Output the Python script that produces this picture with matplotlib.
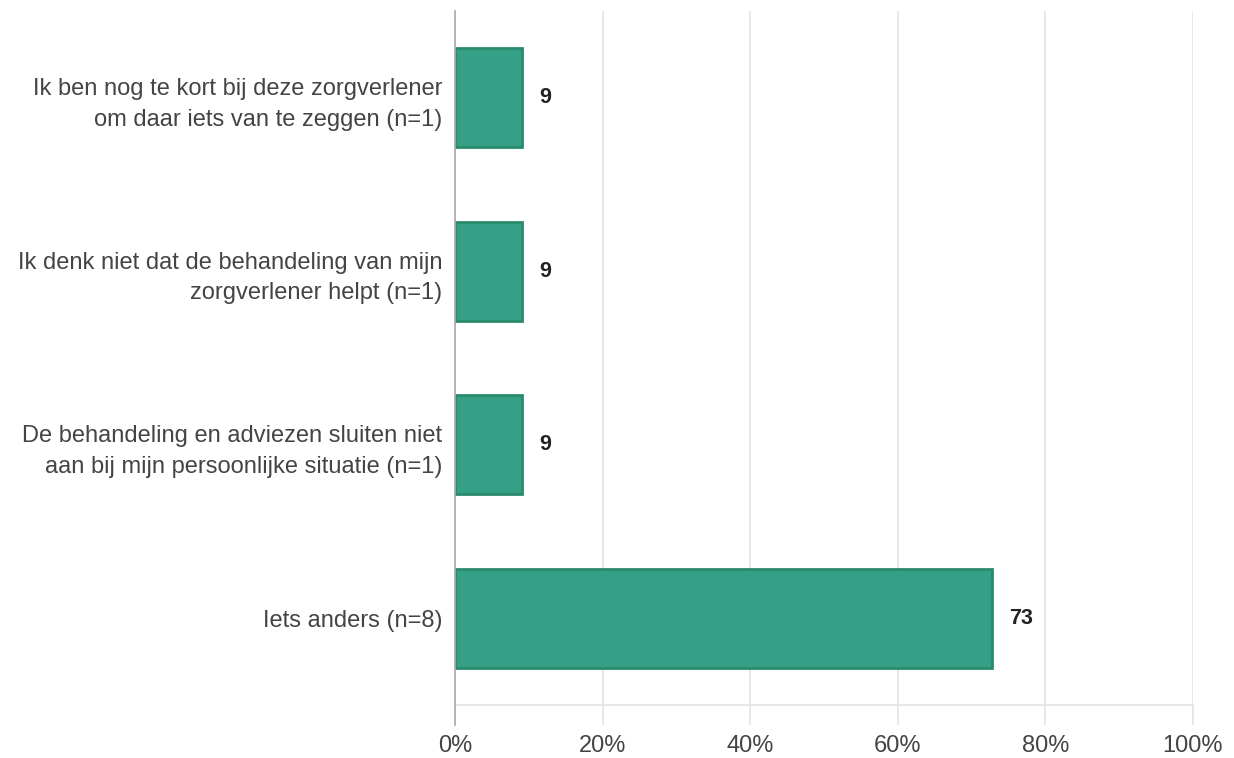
import matplotlib
matplotlib.use("Agg")
import matplotlib.pyplot as plt
import numpy as np

plt.rcParams['font.family'] = ['Liberation Sans', 'DejaVu Sans']

# answers, top to bottom
labels = [
    "Ik ben nog te kort bij deze zorgverlener\nom daar iets van te zeggen (n=1)",
    "Ik denk niet dat de behandeling van mijn\nzorgverlener helpt (n=1)",
    "De behandeling en adviezen sluiten niet\naan bij mijn persoonlijke situatie (n=1)",
    "Iets anders (n=8)",
]
percent = [9.09, 9.09, 9.09, 72.73]
value_labels = ["9", "9", "9", "73"]
xticks = [0, 20, 40, 60, 80, 100]
xtick_labels = ["0%", "20%", "40%", "60%", "80%", "100%"]

fig = plt.figure(figsize=(12.34, 7.58), dpi=100)
ax = fig.add_axes([455 / 1234, 1 - 705 / 758, (1193 - 455) / 1234, (705 - 11) / 758])

y = np.arange(len(labels))
ax.barh(y, percent, height=0.57, color='#35a085', edgecolor='#2a8a6d', linewidth=2, zorder=3)
for yi, p, t in zip(y, percent, value_labels):
    ax.text(p + 2.3, yi, t, va='center', ha='left', fontsize=15.5, fontweight='bold', color='#222222')

ax.set_xlim(0, 100)
ax.set_ylim(len(labels) - 0.5, -0.5)
ax.set_yticks(y)
ax.set_yticklabels(labels, fontsize=17, color='#444444', linespacing=1.5)
ax.set_xticks(xticks)
ax.set_xticklabels(xtick_labels, fontsize=17, color='#444444')
ax.grid(axis='x', color='#e3e3e3', linewidth=1.2, zorder=0)
ax.tick_params(axis='x', length=14.4, width=1.2, color='#e3e3e3', pad=7)
ax.tick_params(axis='y', length=0, pad=9)

for s in ['top', 'right']:
    ax.spines[s].set_visible(False)
ax.spines['bottom'].set_color('#e3e3e3')
ax.spines['bottom'].set_linewidth(1.2)
ax.spines['left'].set_color('#aaaaaa')
ax.spines['left'].set_linewidth(1.2)
ax.spines['left'].set_bounds(len(labels) - 0.5 + 0.115, -0.5)
ax.spines['left'].set_zorder(4)

fig.savefig("out.png", dpi=100)
